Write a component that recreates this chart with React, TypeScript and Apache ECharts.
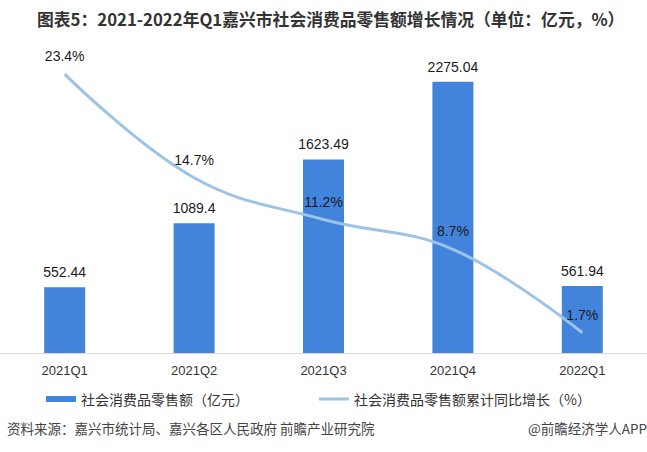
import React, { useEffect, useRef } from "react";
import * as echarts from "echarts";

const categories = ["2021Q1", "2021Q2", "2021Q3", "2021Q4", "2022Q1"];
const retailSales = [552.44, 1089.4, 1623.49, 2275.04, 561.94];
const growthRate = [23.4, 14.7, 11.2, 8.7, 1.7];

const barName = "社会消费品零售额（亿元）";
const lineName = "社会消费品零售额累计同比增长（%）";
const titleText = "图表5：2021-2022年Q1嘉兴市社会消费品零售额增长情况（单位：亿元，%）";
const sourceText = "资料来源：嘉兴市统计局、嘉兴各区人民政府 前瞻产业研究院";
const brandText = "@前瞻经济学人APP";

export default function App() {
  const ref = useRef<HTMLDivElement>(null);
  useEffect(() => {
    if (!ref.current) return;
    const chart = echarts.init(ref.current, null, { renderer: "svg" });
    const numFont = "'Liberation Sans', 'Noto Sans CJK SC', sans-serif";
    const cjkFont = "'Noto Sans CJK SC', sans-serif";
    chart.setOption({
      animation: false,
      backgroundColor: "#ffffff",
      title: {
        text: titleText,
        left: 37,
        top: 11,
        padding: 0,
        textStyle: { fontSize: 16.8, fontWeight: "bold", color: "#333333", fontFamily: cjkFont },
      },
      legend: {
        left: 46,
        top: 392,
        itemWidth: 30,
        itemHeight: 6,
        itemGap: 70,
        padding: 0,
        textStyle: { fontSize: 14, color: "#333333", fontFamily: cjkFont },
        data: [
          { name: barName, icon: "rect" },
          { name: lineName, icon: "path://M0 0H30V3H0Z", itemStyle: { color: "#9dc3e6" } },
        ],
      },
      grid: { left: -14, right: -1, top: 55, bottom: 99, containLabel: false },
      xAxis: {
        type: "category",
        data: categories,
        axisLine: { show: true, lineStyle: { color: "#d9d9d9", width: 1 } },
        axisTick: { show: false },
        axisLabel: { margin: 11, fontSize: 13, color: "#333333", fontFamily: numFont },
      },
      yAxis: [
        { type: "value", min: 0, max: 2500, show: false, splitLine: { show: false } },
        { type: "value", min: 0, max: 25, show: false, splitLine: { show: false } },
      ],
      series: [
        {
          name: barName,
          type: "bar",
          data: retailSales,
          barWidth: 41,
          itemStyle: { color: "#4283db" },
          label: {
            show: true,
            position: "top",
            distance: 8,
            fontSize: 14,
            color: "#1a1a1a",
            fontFamily: numFont,
            formatter: (p: any) => String(p.value),
          },
        },
        {
          name: lineName,
          type: "line",
          yAxisIndex: 1,
          data: growthRate,
          smooth: 0.4,
          symbol: "circle",
          symbolSize: 0.01,
          showSymbol: true,
          lineStyle: { color: "#9dc3e6", width: 3 },
          itemStyle: { color: "#9dc3e6" },
          label: {
            show: true,
            position: "top",
            distance: 11,
            fontSize: 14,
            color: "#1a1a1a",
            fontFamily: numFont,
            formatter: (p: any) => p.value + "%",
          },
          z: 3,
        },
      ],
      graphic: [
        {
          type: "text",
          left: 7,
          top: 421,
          style: { text: sourceText, fontSize: 13.5, fill: "#444444", fontFamily: cjkFont },
        },
        {
          type: "text",
          right: 0,
          top: 421,
          style: { text: brandText, fontSize: 13.5, fill: "#444444", fontFamily: cjkFont },
        },
      ],
    });
    return () => chart.dispose();
  }, []);
  return (
    <div
      ref={ref}
      style={{ position: "fixed", left: 0, top: 0, width: 647, height: 452 }}
    />
  );
}
